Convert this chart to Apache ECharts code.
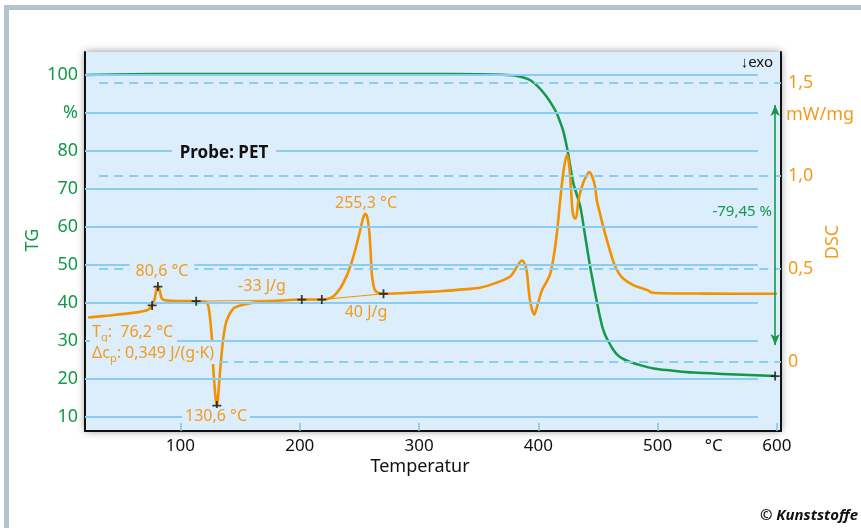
<!DOCTYPE html>
<html>
<head>
<meta charset="utf-8">
<script src="https://cdn.jsdelivr.net/npm/echarts@6/dist/echarts.min.js"></script>
<style>html,body{margin:0;padding:0;background:#fff}#main{width:861px;height:528px}</style>
</head>
<body>
<div id="main"></div>
<script>
// TG curve: temperature (°C) and mass (%)
var tgTemp = [20, 60, 100, 200, 300, 350, 370, 380, 387, 393, 400, 407, 412, 415.5, 418, 421, 424.4, 429.4, 435, 439, 443.4, 447, 450.5, 453.5, 456, 458.8, 462, 465.8, 471, 477, 486, 496.5, 510, 530, 560, 598.5];
var tgMass = [99.9, 100.1, 100.2, 100.2, 100.2, 100.1, 100.0, 99.8, 99.3, 98.6, 96.8, 94.2, 91.8, 89.8, 87.8, 85, 80.2, 71.4, 65.5, 58, 49.5, 43.5, 38, 33.8, 31.5, 29.8, 28, 26.4, 25.2, 24.4, 23.5, 22.7, 22.2, 21.6, 21.2, 20.7];

// DSC curve: temperature (°C) and heat flow (mW/mg)
var dscTemp = [22.6, 40, 60, 68.7, 73, 76.3, 78.5, 80, 81.1, 82.5, 84, 85.5, 90, 100, 113.2, 120.7, 123.5, 126.3, 127.6, 130.5, 133.3, 136, 138.9, 144.4, 150, 160, 166.8, 180, 201.7, 218.5, 224, 228, 234, 239.5, 243, 246.4, 250.6, 253, 254.8, 256.5, 258.2, 259.5, 260.4, 261.8, 263.2, 266, 270.2, 301, 320, 340, 351, 365, 376.4, 382, 386.2, 389, 390.4, 393, 396.5, 400, 402.9, 407, 410, 413, 415.5, 418.3, 421, 423.9, 426, 428.6, 430, 431.4, 433.6, 436.4, 439.5, 442.8, 445.5, 447.6, 449, 451, 456, 463, 467, 471.3, 480, 488, 492, 495, 502, 540, 600];
var dscFlow = [0.237, 0.248, 0.262, 0.271, 0.28, 0.302, 0.34, 0.39, 0.404, 0.385, 0.345, 0.333, 0.328, 0.326, 0.325, 0.322, 0.295, 0.13, -0.046, -0.237, -0.046, 0.13, 0.223, 0.286, 0.302, 0.316, 0.32, 0.326, 0.334, 0.334, 0.338, 0.35, 0.395, 0.464, 0.525, 0.598, 0.706, 0.77, 0.796, 0.78, 0.706, 0.58, 0.473, 0.41, 0.383, 0.37, 0.365, 0.374, 0.38, 0.39, 0.397, 0.425, 0.458, 0.51, 0.544, 0.52, 0.48, 0.33, 0.253, 0.32, 0.383, 0.43, 0.473, 0.57, 0.688, 0.868, 1.02, 1.114, 1.05, 0.814, 0.775, 0.77, 0.868, 0.94, 0.99, 1.02, 0.99, 0.94, 0.868, 0.814, 0.688, 0.535, 0.48, 0.446, 0.41, 0.392, 0.383, 0.372, 0.368, 0.366, 0.365];

// evaluation points and integration baselines
var dscMarks = [[76.3, 0.302], [81.1, 0.404], [113.2, 0.325], [130.5, -0.237], [201.7, 0.334], [218.5, 0.334], [270.2, 0.365]];
var tgMarks = [[598.5, 20.7]];
var baseCryst = [[113.2, 0.325], [218.5, 0.334]];
var baseMelt = [[218.5, 0.334], [270.2, 0.365]];
var massLoss = [[598.5, 92], [598.5, 28.9]];

var xTicks = [100, 200, 300, 400, 500, 600];
var tgTicks = [10, 20, 30, 40, 50, 60, 70, 80, 90, 100];
var dscTicks = [0, 0.5, 1, 1.5];

var green = '#14984a';
var orange = '#f39200';
var orangeText = '#f39b1e';
var gridBlue = '#8bcdf0';
var bg = '#dcedfb';
var font = 'Noto Sans';

function zip(a, b) { return a.map(function (v, i) { return [v, b[i]]; }); }

var plus = 'path://M4,0H6V4H10V6H6V10H4V6H0V4H4Z';

var myChart = echarts.init(document.getElementById('main'));
myChart.setOption({
  animation: false,
  textStyle: { fontFamily: font },
  grid: {
    left: 85, right: 80, top: 52, bottom: 97,
    show: true, backgroundColor: bg, borderWidth: 0,
    shadowColor: 'rgba(0,0,0,0.45)', shadowBlur: 8,
    outerBoundsMode: 'none'
  },
  xAxis: {
    type: 'value', min: 20, max: 603.4,
    axisLine: { show: true, onZero: false, lineStyle: { color: '#111', width: 2 } },
    axisTick: { show: true, inside: true, length: 8, customValues: xTicks, lineStyle: { color: '#7fc6ec', width: 1.5 } },
    axisLabel: {
      customValues: xTicks.concat([547]), color: '#111', fontSize: 17, margin: 7,
      formatter: function (v) { return v === 547 ? '°C' : String(v); }
    },
    splitLine: { show: false }
  },
  yAxis: [{
    type: 'value', min: 6.24, max: 105.96, position: 'left',
    axisLine: { show: true, onZero: false, lineStyle: { color: '#111', width: 2 } },
    axisTick: { show: false },
    axisLabel: {
      customValues: tgTicks, color: green, fontSize: 18, margin: 7,
      formatter: function (v) { return v === 90 ? '%' : String(v); }
    },
    splitLine: { show: false }
  }, {
    type: 'value', min: -0.374, max: 1.667, position: 'right',
    axisLine: { show: true, onZero: false, lineStyle: { color: '#111', width: 2 } },
    axisTick: { show: false },
    axisLabel: {
      customValues: dscTicks, color: orangeText, fontSize: 18, margin: 7,
      formatter: function (v) { return v === 0 ? '0' : v.toFixed(1).replace('.', ','); }
    },
    splitLine: { show: false }
  }],
  series: [{
    // solid grid lines (TG scale)
    type: 'line', yAxisIndex: 0, data: [], z: 1, silent: true,
    markLine: {
      silent: true, symbol: 'none', label: { show: false }, animation: false,
      lineStyle: { color: gridBlue, type: 'solid', width: 2 },
      data: tgTicks.map(function (v) { return [{ coord: [20, v] }, { coord: [584, v] }]; })
    }
  }, {
    // dashed grid lines (DSC scale)
    type: 'line', yAxisIndex: 1, data: [], z: 1, silent: true,
    markLine: {
      silent: true, symbol: 'none', label: { show: false }, animation: false,
      lineStyle: { color: gridBlue, type: [9, 6], width: 2 },
      data: dscTicks.map(function (v) { return [{ coord: [31.9, v] }, { coord: [603.4, v] }]; })
    }
  }, {
    name: 'TG', type: 'line', yAxisIndex: 0, data: zip(tgTemp, tgMass),
    smooth: 0.3, showSymbol: false, z: 3,
    lineStyle: { color: green, width: 2.5 }
  }, {
    name: 'DSC', type: 'line', yAxisIndex: 1, data: zip(dscTemp, dscFlow),
    smooth: 0.3, showSymbol: false, z: 4,
    lineStyle: { color: orange, width: 2.6 }
  }, {
    type: 'line', yAxisIndex: 1, data: baseCryst, showSymbol: false, z: 3,
    lineStyle: { color: orange, width: 1 }
  }, {
    type: 'line', yAxisIndex: 1, data: baseMelt, showSymbol: false, z: 3,
    lineStyle: { color: orange, width: 1 }
  }, {
    type: 'line', yAxisIndex: 0, data: [], z: 3, silent: true,
    markLine: {
      silent: true, symbol: ['arrow', 'arrow'], symbolSize: [7, 11], label: { show: false }, animation: false,
      lineStyle: { color: green, type: 'solid', width: 1.6 },
      data: [[{ coord: massLoss[0] }, { coord: massLoss[1] }]]
    }
  }, {
    type: 'scatter', yAxisIndex: 1, data: dscMarks, symbol: plus, symbolSize: 9, z: 6,
    itemStyle: { color: '#111' }
  }, {
    type: 'scatter', yAxisIndex: 0, data: tgMarks, symbol: plus, symbolSize: 9, z: 6,
    itemStyle: { color: '#111' }
  }],
  graphic: [
    { type: 'rect', shape: { x: 4, y: 5, width: 857, height: 5 }, style: { fill: '#b4c4cd' } },
    { type: 'rect', shape: { x: 4, y: 5, width: 5, height: 523 }, style: { fill: '#b4c4cd' } },
    { type: 'text', x: 33, y: 240, rotation: Math.PI / 2, style: { text: 'TG', fill: green, font: '18px ' + font, align: 'center', verticalAlign: 'middle' } },
    { type: 'text', x: 833, y: 242, rotation: Math.PI / 2, style: { text: 'DSC', fill: orangeText, font: '18px ' + font, align: 'center', verticalAlign: 'middle' } },
    { type: 'text', x: 786, y: 115, style: { text: 'mW/mg', fill: orangeText, font: '18px ' + font, align: 'left', verticalAlign: 'middle' } },
    { type: 'text', x: 420, y: 467, style: { text: 'Temperatur', fill: '#111', font: '18px ' + font, align: 'center', verticalAlign: 'middle' } },
    { type: 'text', x: 858, y: 516, style: { text: '© Kunststoffe', fill: '#111', font: 'italic bold 15px ' + font, align: 'right', verticalAlign: 'middle' } },
    { type: 'text', x: 773, y: 63, z: 10, style: { text: '↓exo', fill: '#111', font: '15px ' + font, align: 'right', verticalAlign: 'middle' } },
    { type: 'text', x: 224, y: 153, z: 10, style: { text: 'Probe: PET', fill: '#111', font: 'bold 17px ' + font, align: 'center', verticalAlign: 'middle', backgroundColor: bg, padding: [2, 8] } },
    { type: 'text', x: 772, y: 212, z: 10, style: { text: '-79,45 %', fill: green, font: '15px ' + font, align: 'right', verticalAlign: 'middle' } },
    { type: 'text', x: 162, y: 271, z: 10, style: { text: '80,6 °C', fill: orangeText, font: '16px ' + font, align: 'center', verticalAlign: 'middle', backgroundColor: bg, padding: [0, 6] } },
    { type: 'text', x: 262, y: 286, z: 10, style: { text: '-33 J/g', fill: orangeText, font: '16px ' + font, align: 'center', verticalAlign: 'middle' } },
    { type: 'text', x: 366, y: 203, z: 10, style: { text: '255,3 °C', fill: orangeText, font: '16px ' + font, align: 'center', verticalAlign: 'middle' } },
    { type: 'text', x: 366, y: 312, z: 10, style: { text: '40 J/g', fill: orangeText, font: '16px ' + font, align: 'center', verticalAlign: 'middle' } },
    { type: 'text', x: 216, y: 416, z: 10, style: { text: '130,6 °C', fill: orangeText, font: '16px ' + font, align: 'center', verticalAlign: 'middle', backgroundColor: bg, padding: [0, 3] } },
    { type: 'text', x: 90, y: 332, z: 10, style: {
      text: '{a|T}{s|g}{a|:  76,2 °C}', fill: orangeText, backgroundColor: bg, padding: [0, 4, 0, 2],
      align: 'left', verticalAlign: 'middle',
      rich: { a: { fontSize: 16, fontFamily: font, color: orangeText, lineHeight: 22 }, s: { fontSize: 11, fontFamily: font, color: orangeText, verticalAlign: 'bottom', lineHeight: 22 } }
    } },
    { type: 'text', x: 90, y: 353, z: 10, style: {
      text: '{a|Δc}{s|p}{a|: 0,349 J/(g·K)}', fill: orangeText, backgroundColor: bg, padding: [0, 4, 0, 2],
      align: 'left', verticalAlign: 'middle',
      rich: { a: { fontSize: 16, fontFamily: font, color: orangeText, lineHeight: 22 }, s: { fontSize: 11, fontFamily: font, color: orangeText, verticalAlign: 'bottom', lineHeight: 22 } }
    } }
  ]
});
</script>
</body>
</html>
